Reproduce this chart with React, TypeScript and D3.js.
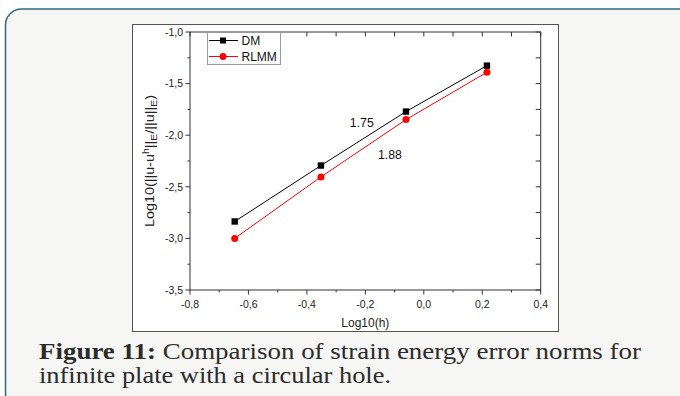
import React from "react";
import * as d3 from "d3";

const W = 680;
const H = 396;

const hValues = [-0.647, -0.352, -0.061, 0.216];
const dmValues = [-2.836, -2.294, -1.771, -1.326];
const rlmmValues = [-3.0, -2.404, -1.849, -1.39];
const xTicks = [-0.8, -0.6, -0.4, -0.2, 0.0, 0.2, 0.4];
const yTicks = [-1.0, -1.5, -2.0, -2.5, -3.0, -3.5];
const slopeLabels = [
  { text: "1.75", x: -0.212, y: -1.925 },
  { text: "1.88", x: -0.116, y: -2.235 },
];
const seriesNames = ["DM", "RLMM"];
const captionBold = "Figure 11:";
const captionRest = " Comparison of strain energy error norms for";
const captionLine2 = "infinite plate with a circular hole.";

const fmt = (v: number) => d3.format(".1f")(v).replace(".", ",").replace("−", "-");

export default function App() {
  const left = 190, right = 540.7, top = 32, bottom = 290;
  const x = d3.scaleLinear().domain([-0.8, 0.4]).range([left, right]);
  const y = d3.scaleLinear().domain([-3.5, -1.0]).range([bottom, top]);
  const xMinor = d3.range(-0.7, 0.4, 0.2);
  const yMinor = d3.range(-3.25, -1.0, 0.5);
  const line = d3
    .line<[number, number]>()
    .x((d) => x(d[0]))
    .y((d) => y(d[1]));
  const dm: [number, number][] = hValues.map((h, i) => [h, dmValues[i]]);
  const rl: [number, number][] = hValues.map((h, i) => [h, rlmmValues[i]]);
  const axisColor = "#333";
  const font = "Liberation Sans, Arial, sans-serif";
  const serif = "Liberation Serif";

  return (
    <svg
      width={W}
      height={H}
      style={{ position: "absolute", left: 0, top: 0, background: "#fff" }}
    >
      <rect
        x={5.5}
        y={9}
        width={690}
        height={400}
        rx={16}
        ry={16}
        fill="#f6f6f4"
        stroke="#2f6b7c"
        strokeWidth={1.5}
      />
      <rect x={132.5} y={24.5} width={426} height={307} fill="#fff" stroke="#555" strokeWidth={1} />

      <rect x={left} y={top} width={right - left} height={bottom - top} fill="none" stroke={axisColor} strokeWidth={1} />

      {xTicks.map((t) => (
        <g key={"xt" + t}>
          <line x1={x(t)} x2={x(t)} y1={bottom} y2={bottom + 4.5} stroke={axisColor} />
          <line x1={x(t)} x2={x(t)} y1={top} y2={top + 4.5} stroke={axisColor} />
          <text x={x(t)} y={bottom + 17.5} fontSize={10.5} fontFamily={font} textAnchor="middle" fill="#222">
            {fmt(t)}
          </text>
        </g>
      ))}
      {xMinor.map((t) => (
        <g key={"xm" + t}>
          <line x1={x(t)} x2={x(t)} y1={bottom} y2={bottom + 2.5} stroke={axisColor} />
          <line x1={x(t)} x2={x(t)} y1={top} y2={top + 4.5} stroke={axisColor} />
        </g>
      ))}
      {yTicks.map((t) => (
        <g key={"yt" + t}>
          <line x1={left - 4.5} x2={left} y1={y(t)} y2={y(t)} stroke={axisColor} />
          <line x1={right - 5} x2={right} y1={y(t)} y2={y(t)} stroke={axisColor} />
          <text x={left - 7} y={y(t) + 3.7} fontSize={10.5} fontFamily={font} textAnchor="end" fill="#222">
            {fmt(t)}
          </text>
        </g>
      ))}
      {yMinor.map((t) => (
        <g key={"ym" + t}>
          <line x1={left - 2.5} x2={left} y1={y(t)} y2={y(t)} stroke={axisColor} />
          <line x1={right - 5} x2={right} y1={y(t)} y2={y(t)} stroke={axisColor} />
        </g>
      ))}

      <text x={(left + right) / 2} y={bottom + 37} fontSize={12} fontFamily={font} textAnchor="middle" fill="#222">
        Log10(h)
      </text>
      <text
        transform={`translate(${154},${(top + bottom) / 2}) rotate(-90)`}
        fontSize={12.5}
        fontFamily={font}
        textAnchor="middle"
        fill="#222"
        textLength={132}
        lengthAdjust="spacingAndGlyphs"
      >
        Log10(||u-u<tspan fontSize={9} dy={-5}>h</tspan>
        <tspan dy={5}>||</tspan>
        <tspan fontSize={9} dy={3}>E</tspan>
        <tspan dy={-3}>/||u||</tspan>
        <tspan fontSize={9} dy={3}>E</tspan>
        <tspan dy={-3}>)</tspan>
      </text>

      <path d={line(dm) || ""} fill="none" stroke="#000" strokeWidth={1} />
      <path d={line(rl) || ""} fill="none" stroke="#ff0000" strokeWidth={1} />
      {dm.map((d, i) => (
        <rect key={"dm" + i} x={x(d[0]) - 3.2} y={y(d[1]) - 3.2} width={6.4} height={6.4} fill="#000" />
      ))}
      {rl.map((d, i) => (
        <circle key={"rl" + i} cx={x(d[0])} cy={y(d[1])} r={3.5} fill="#ff0000" />
      ))}

      {slopeLabels.map((s) => (
        <text key={s.text} x={x(s.x)} y={y(s.y)} fontSize={12.3} fontFamily={font} textAnchor="middle" fill="#111">
          {s.text}
        </text>
      ))}

      <rect x={207.5} y={32.5} width={73} height={32} fill="#fff" stroke="#999" strokeWidth={1} />
      <line x1={209} x2={238} y1={40.5} y2={40.5} stroke="#000" />
      <rect x={220} y={37.5} width={6} height={6} fill="#000" />
      <text x={241.5} y={44.8} fontSize={12} fontFamily={font} fill="#111">
        {seriesNames[0]}
      </text>
      <line x1={209} x2={238} y1={56.5} y2={56.5} stroke="#ff0000" />
      <circle cx={223} cy={56.5} r={3.4} fill="#ff0000" />
      <text x={241.5} y={60.8} fontSize={12} fontFamily={font} fill="#111">
        {seriesNames[1]}
      </text>

      <text x={39} y={359} fontSize={24} fontFamily={serif} fill="#2b2b2b" textLength={602} lengthAdjust="spacingAndGlyphs">
        <tspan fontWeight="bold">{captionBold}</tspan>
        <tspan>{captionRest}</tspan>
      </text>
      <text x={39} y={383} fontSize={24} fontFamily={serif} fill="#2b2b2b" textLength={352} lengthAdjust="spacingAndGlyphs">
        {captionLine2}
      </text>
    </svg>
  );
}
